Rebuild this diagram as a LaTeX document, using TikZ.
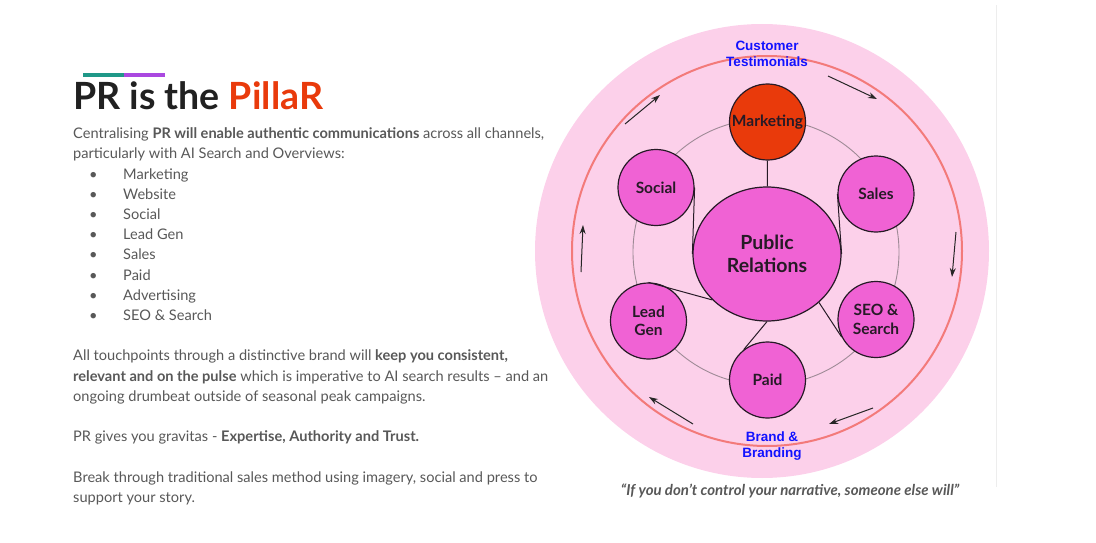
\documentclass[tikz,border=0pt]{standalone}
\usepackage{fontspec}
\setmainfont{Lato}
\newfontfamily\arialfont{Liberation Sans}
\usetikzlibrary{arrows.meta,shapes.geometric}
\definecolor{blush}{RGB}{252,208,234}
\definecolor{orchid}{RGB}{240,98,212}
\definecolor{flame}{RGB}{233,58,11}
\definecolor{coral}{RGB}{243,122,122}
\definecolor{mauve}{RGB}{158,138,150}
\definecolor{ink}{RGB}{38,26,38}
\definecolor{slate}{RGB}{88,88,88}
\definecolor{jade}{RGB}{32,152,136}
\definecolor{lilac}{RGB}{170,72,224}
\definecolor{pureblue}{RGB}{18,18,255}
\tikzset{
  >={Stealth[length=9pt,width=6pt]},
  spoke/.style={circle,draw=ink,line width=1.2pt,fill=#1,minimum size=76pt,inner sep=0pt,
    align=center,font=\fontsize{15.5}{18.5}\selectfont\bfseries,text=ink},
  spoke/.default=orchid,
  hub/.style={ellipse,draw=ink,line width=1.2pt,fill=orchid,minimum width=148pt,
    minimum height=134pt,inner sep=0pt,align=center,font=\fontsize{19.5}{23}\selectfont\bfseries,text=ink},
  link/.style={draw=ink,line width=1pt},
  flow/.style={->,line width=1pt,draw=black!85},
  body/.style={anchor=base west,inner sep=0pt,text=slate,font=\fontsize{14.6}{17}\selectfont},
  callout/.style={align=center,text=pureblue,font=\arialfont\bfseries\fontsize{13.5}{16}\selectfont},
}

\begin{document}
\begin{tikzpicture}[x=1pt,y=-1pt]
  \useasboundingbox (0,0) rectangle (1096,543);
  % left column
  \fill[jade] (83,73) rectangle (124,77);
  \fill[lilac] (124,73) rectangle (165,77);
  \node[body,text=black!87,font=\fontsize{37.5}{40}\selectfont\bfseries] (title) at (73,110) {PR is the \textcolor{flame}{PillaR}};
  \node[body] (intro1) at (73,138.6) {Centralising \textbf{PR will enable authentic communications} across all channels,};
  \node[body] (intro2) at (73,158.8) {particularly with AI Search and Overviews:};
  \foreach \entry [count=\i] in {Marketing,Website,Social,Lead Gen,Sales,Paid,Advertising,SEO \& Search} {
    \node[body] (dot\i) at (89,158.8+20.2*\i) {•};
    \node[body] (item\i) at (123,158.8+20.2*\i) {\entry};
  }
  \node[body] (para1) at (73,360.8) {All touchpoints through a distinctive brand will \textbf{keep you consistent,}};
  \node[body] (para2) at (73,381) {\textbf{relevant and on the pulse} which is imperative to AI search results – and an};
  \node[body] (para3) at (73,401.2) {ongoing drumbeat outside of seasonal peak campaigns.};
  \node[body] (grav) at (73,441.6) {PR gives you gravitas - \textbf{Expertise, Authority and Trust.}};
  \node[body] (break1) at (73,482) {Break through traditional sales method using imagery, social and press to};
  \node[body] (break2) at (73,502.2) {support your story.};
  % diagram
  \draw[black!7,line width=0.6pt] (996.5,5) -- (996.5,487);
  \fill[blush] (762,251) circle (227);
  \draw[coral,line width=2pt] (767,251) circle (195);
  \draw[mauve,line width=0.9pt] (766,252) circle (133);
  \node[hub] (pr) at (767,254) {Public\\Relations};
  \node[spoke=flame] (mkt) at (767.5,122) {Marketing};
  \node[spoke] (social) at (656,187.5) {Social};
  \node[spoke] (sales) at (876,194) {Sales};
  \node[spoke] (lead) at (648.5,321) {Lead\\Gen};
  \node[spoke] (seo) at (876,319.5) {SEO \&\\Search};
  \node[spoke] (paid) at (767.5,380) {Paid};
  \draw[link] (mkt) -- (pr);
  \draw[link] (social.east) -- (pr.west);
  \draw[link] (sales.west) -- (pr.east);
  \draw[link] (lead.north) -- (pr.220);
  \draw[link] (pr.317) -- (seo.207);
  \draw[link] (pr.south) -- (paid.128);
  \foreach \n/\sx/\sy/\ex/\ey in {1/625/124/660/95, 2/828/76/877/99, 3/956/232/952/277,
                                  4/873/408/829/424, 5/693/424/649/397, 6/581/272/583/225} {
    \coordinate (tail\n) at (\sx,\sy);
    \coordinate (head\n) at (\ex,\ey);
    \draw[flow] (tail\n) -- (head\n);
  }
  \node[callout] (cust) at (767,54) {Customer\\Testimonials};
  \node[callout] (brand) at (772,446) {Brand \&\\Branding};
  \node[anchor=base,inner sep=0pt,text=slate,font=\fontsize{15}{17}\selectfont\bfseries\itshape] (quote) at (790,495) {“If you don’t control your narrative, someone else will”};
\end{tikzpicture}
\end{document}
